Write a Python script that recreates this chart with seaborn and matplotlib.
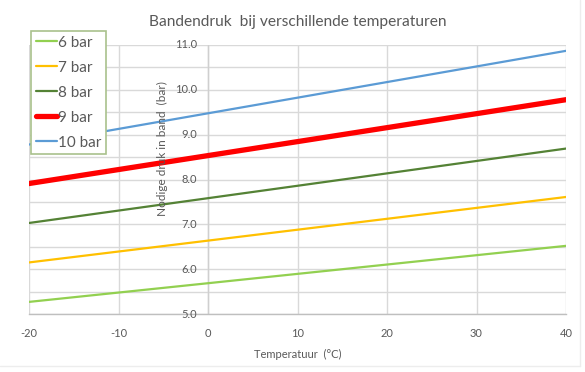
import matplotlib
matplotlib.use("Agg")
import matplotlib.pyplot as plt
import seaborn as sns
import pandas as pd
from matplotlib.lines import Line2D

sns.set_theme(style="white")
plt.rcParams['font.family'] = ['Lato', 'DejaVu Sans']

# Data (straight lines, endpoints at -20 and 40 °C)
temperatures = [-20, 40]
series_names = ["6 bar", "7 bar", "8 bar", "9 bar", "10 bar"]
p6 = [5.27, 6.52]
p7 = [6.15, 7.61]
p8 = [7.03, 8.69]
p9 = [7.91, 9.78]
p10 = [8.78, 10.87]
values = [p6, p7, p8, p9, p10]
colors = ["#92D050", "#FFC000", "#548235", "#FF0000", "#5B9BD5"]
widths = [1.6, 1.6, 1.6, 3.8, 1.6]
y_ticks = [5.0, 6.0, 7.0, 8.0, 9.0, 10.0, 11.0]
x_ticks = [-20, -10, 0, 10, 20, 30, 40]

rows = []
for name, vals in zip(series_names, values):
    for t, v in zip(temperatures, vals):
        rows.append({"Temperatuur": t, "Druk": v, "Serie": name})
df = pd.DataFrame(rows)

fig = plt.figure(figsize=(5.85, 3.72), dpi=100)
ax = fig.add_axes([29/585, 1-314/372, (566-29)/585, (314-45)/372])

grid_c = "#D9D9D9"
for name, c, lw in zip(series_names, colors, widths):
    sns.lineplot(data=df[df["Serie"] == name], x="Temperatuur", y="Druk",
                 color=c, linewidth=lw, ax=ax, legend=False, zorder=3)

ax.set_xlim(-20, 40)
ax.set_ylim(5.0, 11.0)
ax.set_yticks([5.0 + 0.5*i for i in range(13)], minor=False)
ax.set_xticks(x_ticks)
ax.grid(True, color=grid_c, linewidth=1.0, zorder=0)
ax.set_axisbelow(True)
for s in ["top", "left", "right"]:
    ax.spines[s].set_visible(False)
ax.spines["bottom"].set_color("#BFBFBF")
ax.spines["bottom"].set_linewidth(1.0)
ax.axvline(0, color="#CFCFCF", linewidth=1.0, zorder=1)

text_c = "#595959"
ax.set_yticklabels([])
ax.tick_params(axis="both", length=0, labelsize=8, colors=text_c)
ax.set_xticklabels([str(x) for x in x_ticks])
ax.tick_params(axis="x", pad=10)
for yv in y_ticks:
    ax.text(-1.2, yv, f"{yv:.1f}", ha="right", va="center", fontsize=8,
            color=text_c, zorder=4)

ax.set_xlabel("Temperatuur  (°C)", fontsize=8, color=text_c, labelpad=7)
ax.set_ylabel("")
ax.text(-5.1, 8.7, "Nodige druk in band  (bar)", rotation=90, ha="center",
        va="center", fontsize=8.5, color=text_c, zorder=4)

fig.text(298/585, 1-22/372, "Bandendruk  bij verschillende temperaturen",
         ha="center", va="center", fontsize=11.2, color=text_c)

handles = [Line2D([0], [0], color=c, linewidth=lw) for c, lw in zip(colors, widths)]
leg = fig.legend(handles, series_names, loc="upper left",
                 bbox_to_anchor=(31/585, 1-31/372), borderaxespad=0,
                 fontsize=11, frameon=True, fancybox=False,
                 handlelength=1.4, handletextpad=0.05, labelspacing=0.72,
                 borderpad=0.3)
leg.get_frame().set_edgecolor("#A9C18C")
leg.get_frame().set_linewidth(1.2)
leg.get_frame().set_facecolor("white")
leg.get_frame().set_alpha(1)
for t in leg.get_texts():
    t.set_color(text_c)

fig.add_artist(Line2D([580/585, 580/585], [1-366/372, 1.0], transform=fig.transFigure,
                      color="#EDEDED", linewidth=1))
fig.add_artist(Line2D([0, 580/585], [1-366/372, 1-366/372], transform=fig.transFigure,
                      color="#EDEDED", linewidth=1))

fig.savefig("out.png", dpi=100)
